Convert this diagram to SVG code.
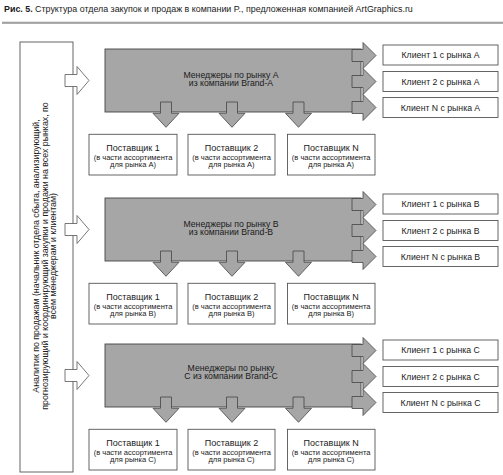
<svg xmlns="http://www.w3.org/2000/svg" width="503" height="475" viewBox="0 0 503 475">
<style>
text{font-family:"Liberation Sans",Arial,sans-serif;fill:#1a1a1a}
.box{fill:#fff;stroke:#555;stroke-width:0.9}
.mgr{fill:#a6a6a6;stroke:#444;stroke-width:0.9}
.arr{fill:#a6a6a6;stroke:#444;stroke-width:0.8}
.harr{fill:#fff;stroke:#555;stroke-width:0.8}
.t1{font-size:9px;text-anchor:middle}
.t2{font-size:7.5px;text-anchor:middle}
.tc{font-size:8.7px;text-anchor:middle}
.tm{font-size:8.7px;text-anchor:middle}
.ta{font-size:8.8px;text-anchor:middle}
</style>
<defs>
<path id="down" d="M-5.5,0 H5.5 V11.3 H13 L0,25.3 L-13,11.3 H-5.5 Z"/>
<path id="right" d="M0,-6 H11 V-13 L24,0 L11,13 V6 H0 Z"/>
<path id="hollow" d="M0,-6 H12 V-14 L24,0 L12,14 V6 H0 Z"/>
</defs>
<rect width="503" height="475" fill="#fff"/>
<g id="title">
<text x="4" y="12" style="font-size:8.9px"><tspan font-weight="bold">Рис. 5.</tspan> Структура отдела закупок и продаж в компании P., предложенная компанией ArtGraphics.ru</text>
<rect x="2" y="21.7" width="501" height="2.2" fill="#a3a3a3"/>
</g>
<g id="analyst">
<rect class="box" x="20" y="42" width="53" height="430"/>
<g transform="translate(45,256) rotate(-90)">
<text class="ta" x="0" y="-6">Аналитик по продажам (начальник отдела сбыта, анализирующий,</text>
<text class="ta" x="0" y="2.7">прогнозирующий и координирующий закупки и продажи на всех рынках, по</text>
<text class="ta" x="0" y="11.4">всем менеджерам и клиентам)</text>
</g>
</g>
<g id="managerA"><rect class="mgr" x="105" y="49" width="256" height="63"/><text class="tm" x="231" y="77.5">Менеджеры по рынку A</text><text class="tm" x="231" y="86.3">из компании Brand-A</text></g>
<g id="managerB"><rect class="mgr" x="105" y="198" width="256" height="63"/><text class="tm" x="231" y="226.5">Менеджеры по рынку B</text><text class="tm" x="231" y="235.3">из компании Brand-B</text></g>
<g id="managerC"><rect class="mgr" x="105" y="344" width="256" height="63"/><text class="tm" x="231" y="370.5">Менеджеры по рынку</text><text class="tm" x="231" y="379.3">C из компании Brand-C</text></g>

<g id="clientA1"><rect class="box" x="383" y="45" width="115" height="20"/><text class="tc" x="440.5" y="58">Клиент 1 с рынка A</text></g>
<g id="clientA2"><rect class="box" x="383" y="71.5" width="115" height="20"/><text class="tc" x="440.5" y="84.5">Клиент 2 с рынка A</text></g>
<g id="clientAN"><rect class="box" x="383" y="97.5" width="115" height="20"/><text class="tc" x="440.5" y="110.5">Клиент N с рынка A</text></g>
<g id="clientB1"><rect class="box" x="383" y="194" width="115" height="20"/><text class="tc" x="440.5" y="207">Клиент 1 с рынка B</text></g>
<g id="clientB2"><rect class="box" x="383" y="220.5" width="115" height="20"/><text class="tc" x="440.5" y="233.5">Клиент 2 с рынка B</text></g>
<g id="clientBN"><rect class="box" x="383" y="246.5" width="115" height="20"/><text class="tc" x="440.5" y="259.5">Клиент N с рынка B</text></g>
<g id="clientC1"><rect class="box" x="383" y="340" width="115" height="20"/><text class="tc" x="440.5" y="353">Клиент 1 с рынка C</text></g>
<g id="clientC2"><rect class="box" x="383" y="366.5" width="115" height="20"/><text class="tc" x="440.5" y="379.5">Клиент 2 с рынка C</text></g>
<g id="clientCN"><rect class="box" x="383" y="392.5" width="115" height="20"/><text class="tc" x="440.5" y="405.5">Клиент N с рынка C</text></g>

<g id="supA1"><rect class="box" x="89" y="134.3" width="88" height="40.7"/><text class="t1" x="133" y="150.5">Поставщик 1</text><text class="t2" x="133" y="159.5">(в части ассортимента</text><text class="t2" x="133" y="167.3">для рынка А)</text></g>
<g id="supA2"><rect class="box" x="188" y="134.3" width="87" height="40.7"/><text class="t1" x="231.5" y="150.5">Поставщик 2</text><text class="t2" x="231.5" y="159.5">(в части ассортимента</text><text class="t2" x="231.5" y="167.3">для рынка А)</text></g>
<g id="supAN"><rect class="box" x="287.5" y="134.3" width="87.5" height="40.7"/><text class="t1" x="331.2" y="150.5">Поставщик N</text><text class="t2" x="331.2" y="159.5">(в части ассортимента</text><text class="t2" x="331.2" y="167.3">для рынка А)</text></g>
<g id="supB1"><rect class="box" x="89" y="283.3" width="88" height="40.7"/><text class="t1" x="133" y="299.5">Поставщик 1</text><text class="t2" x="133" y="308.5">(в части ассортимента</text><text class="t2" x="133" y="316.3">для рынка B)</text></g>
<g id="supB2"><rect class="box" x="188" y="283.3" width="87" height="40.7"/><text class="t1" x="231.5" y="299.5">Поставщик 2</text><text class="t2" x="231.5" y="308.5">(в части ассортимента</text><text class="t2" x="231.5" y="316.3">для рынка B)</text></g>
<g id="supBN"><rect class="box" x="287.5" y="283.3" width="87.5" height="40.7"/><text class="t1" x="331.2" y="299.5">Поставщик N</text><text class="t2" x="331.2" y="308.5">(в части ассортимента</text><text class="t2" x="331.2" y="316.3">для рынка B)</text></g>
<g id="supC1"><rect class="box" x="89" y="429.3" width="88" height="40.7"/><text class="t1" x="133" y="445.5">Поставщик 1</text><text class="t2" x="133" y="454.5">(в части ассортимента</text><text class="t2" x="133" y="462.3">для рынка C)</text></g>
<g id="supC2"><rect class="box" x="188" y="429.3" width="87" height="40.7"/><text class="t1" x="231.5" y="445.5">Поставщик 2</text><text class="t2" x="231.5" y="454.5">(в части ассортимента</text><text class="t2" x="231.5" y="462.3">для рынка C)</text></g>
<g id="supCN"><rect class="box" x="287.5" y="429.3" width="87.5" height="40.7"/><text class="t1" x="331.2" y="445.5">Поставщик N</text><text class="t2" x="331.2" y="454.5">(в части ассортимента</text><text class="t2" x="331.2" y="462.3">для рынка C)</text></g>

<g id="connectors">
<use href="#hollow" class="harr" x="65" y="80.5"/>
<use href="#hollow" class="harr" x="65" y="229.5"/>
<use href="#hollow" class="harr" x="65" y="375.5"/>
<use href="#right" class="arr" x="352" y="55.5"/>
<use href="#right" class="arr" x="352" y="81.5"/>
<use href="#right" class="arr" x="352" y="107.5"/>
<use href="#right" class="arr" x="352" y="204.5"/>
<use href="#right" class="arr" x="352" y="230.5"/>
<use href="#right" class="arr" x="352" y="256.5"/>
<use href="#right" class="arr" x="352" y="350.5"/>
<use href="#right" class="arr" x="352" y="376.5"/>
<use href="#right" class="arr" x="352" y="402.5"/>
<use href="#down" class="arr" x="166" y="102"/>
<use href="#down" class="arr" x="232" y="102"/>
<use href="#down" class="arr" x="298.5" y="102"/>
<use href="#down" class="arr" x="166" y="251"/>
<use href="#down" class="arr" x="232" y="251"/>
<use href="#down" class="arr" x="298.5" y="251"/>
<use href="#down" class="arr" x="166" y="397"/>
<use href="#down" class="arr" x="232" y="397"/>
<use href="#down" class="arr" x="298.5" y="397"/>
</g>
</svg>
